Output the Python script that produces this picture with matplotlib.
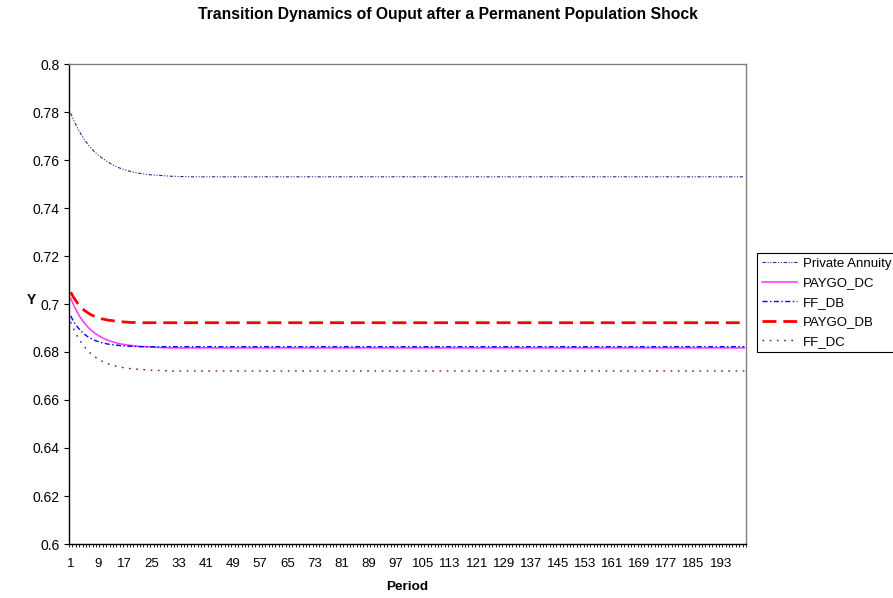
import matplotlib
matplotlib.use("Agg")
import matplotlib.pyplot as plt
from matplotlib.ticker import FixedLocator, FixedFormatter

plt.rcParams['font.family'] = ['Liberation Sans', 'DejaVu Sans']

# periods 1..200, each series: transition values, then its steady state
n_periods = 200
periods = list(range(1, n_periods + 1))

private_annuity_start = [0.7795, 0.7762, 0.7733, 0.7708, 0.7686, 0.7667, 0.7650, 0.7635,
                         0.7622, 0.7611, 0.7601, 0.7592, 0.7583, 0.7576, 0.7569, 0.7564,
                         0.7559, 0.7555, 0.7551, 0.7548, 0.7545, 0.7543, 0.7541, 0.7539,
                         0.7538, 0.7537, 0.7536, 0.7535, 0.7534, 0.7533, 0.7532, 0.7532,
                         0.7531, 0.7531, 0.7531]
private_annuity_steady = 0.7530

paygo_dc_start = [0.7024, 0.6991, 0.6964, 0.6941, 0.6922, 0.6905, 0.6891, 0.6880,
                  0.6870, 0.6862, 0.6855, 0.6849, 0.6844, 0.6840, 0.6836, 0.6833,
                  0.6831, 0.6829, 0.6827, 0.6825, 0.6824, 0.6823, 0.6822, 0.6821,
                  0.6820, 0.6819, 0.6819, 0.6818, 0.6818]
paygo_dc_steady = 0.6817

ff_db_start = [0.6950, 0.6924, 0.6904, 0.6888, 0.6875, 0.6864, 0.6856, 0.6849,
               0.6844, 0.6839, 0.6836, 0.6833, 0.6831, 0.6829, 0.6828, 0.6826,
               0.6825, 0.6824, 0.6824, 0.6823]
ff_db_steady = 0.6822

paygo_db_start = [0.7049, 0.7024, 0.7004, 0.6987, 0.6974, 0.6964, 0.6955, 0.6949,
                  0.6943, 0.6939, 0.6936, 0.6933, 0.6931, 0.6929, 0.6927, 0.6926,
                  0.6925, 0.6924, 0.6923, 0.6923]
paygo_db_steady = 0.6922

ff_dc_start = [0.6925, 0.6892, 0.6865, 0.6842, 0.6823, 0.6807, 0.6793, 0.6781,
               0.6772, 0.6764, 0.6757, 0.6751, 0.6746, 0.6742, 0.6739, 0.6736,
               0.6734, 0.6732, 0.6730, 0.6729, 0.6728, 0.6727, 0.6726, 0.6725,
               0.6724, 0.6723, 0.6723, 0.6722, 0.6722]
ff_dc_steady = 0.6721

x_labels = list(range(1, 194, 8))
y_ticks = [0.6, 0.62, 0.64, 0.66, 0.68, 0.7, 0.72, 0.74, 0.76, 0.78, 0.8]


def full_series(start, steady):
    return start + [steady] * (n_periods - len(start))


series = [
    ("Private Annuity", full_series(private_annuity_start, private_annuity_steady),
     dict(color="#2a2a90", lw=0.8, dashes=(3, 1.5, 1, 1.5, 1, 1.5))),
    ("PAYGO_DC", full_series(paygo_dc_start, paygo_dc_steady),
     dict(color="#ff33ff", lw=1.1)),
    ("FF_DB", full_series(ff_db_start, ff_db_steady),
     dict(color="#0000ff", lw=1.0, dashes=(3.6, 1.8, 1, 1.8))),
    ("PAYGO_DB", full_series(paygo_db_start, paygo_db_steady),
     dict(color="#ff0000", lw=2.0, dashes=(5, 2.5))),
    ("FF_DC", full_series(ff_dc_start, ff_dc_steady),
     dict(color="#800080", lw=1.0, dashes=(1.2, 4))),
]

W, H = 893, 598
fig = plt.figure(figsize=(W / 100, H / 100), dpi=100, facecolor="white")
ax = fig.add_axes([69 / W, 1 - 544 / H, (746 - 69) / W, (544 - 64) / H])

for name, values, style in series:
    ax.plot(periods, values, label=name, **style)

ax.set_xlim(0.5, n_periods + 0.5)
ax.set_ylim(0.6, 0.8)

# category axis: ticks on the boundaries, labels every 8th category
ax.xaxis.set_minor_locator(FixedLocator([p - 0.5 for p in range(1, n_periods + 2)]))
ax.xaxis.set_major_locator(FixedLocator(x_labels))
ax.xaxis.set_major_formatter(FixedFormatter([str(v) for v in x_labels]))
ax.tick_params(axis="x", which="major", length=0, pad=10, labelsize=9.5)
ax.tick_params(axis="x", which="minor", length=2.2, width=0.6, direction="out")

ax.set_yticks(y_ticks)
ax.set_yticklabels(["%g" % v for v in y_ticks])
ax.tick_params(axis="y", length=3.5, width=0.8, direction="out", labelsize=10, pad=3)

ax.spines["left"].set_color("black")
ax.spines["bottom"].set_color("black")
ax.spines["top"].set_color("#808080")
ax.spines["right"].set_color("#808080")
for s in ax.spines.values():
    s.set_linewidth(1.0)

fig.text(448 / W, 1 - 15 / H, "Transition Dynamics of Ouput after a Permanent Population Shock",
         ha="center", va="center", fontsize=11.3, fontweight="bold")
fig.text(31 / W, 1 - 300 / H, "Y", ha="center", va="center", fontsize=10, fontweight="bold")
fig.text(407.5 / W, 1 - 587 / H, "Period", ha="center", va="center", fontsize=9.7, fontweight="bold")

leg = ax.legend(loc="upper left", bbox_to_anchor=(757 / W, 1 - 253 / H),
                bbox_transform=fig.transFigure, borderaxespad=0, fancybox=False,
                framealpha=1, edgecolor="black", fontsize=9.5, handlelength=2.7,
                handletextpad=0.4, labelspacing=0.55, borderpad=0.35)
leg.get_frame().set_linewidth(0.8)

fig.savefig("out.png", dpi=100, facecolor="white")
